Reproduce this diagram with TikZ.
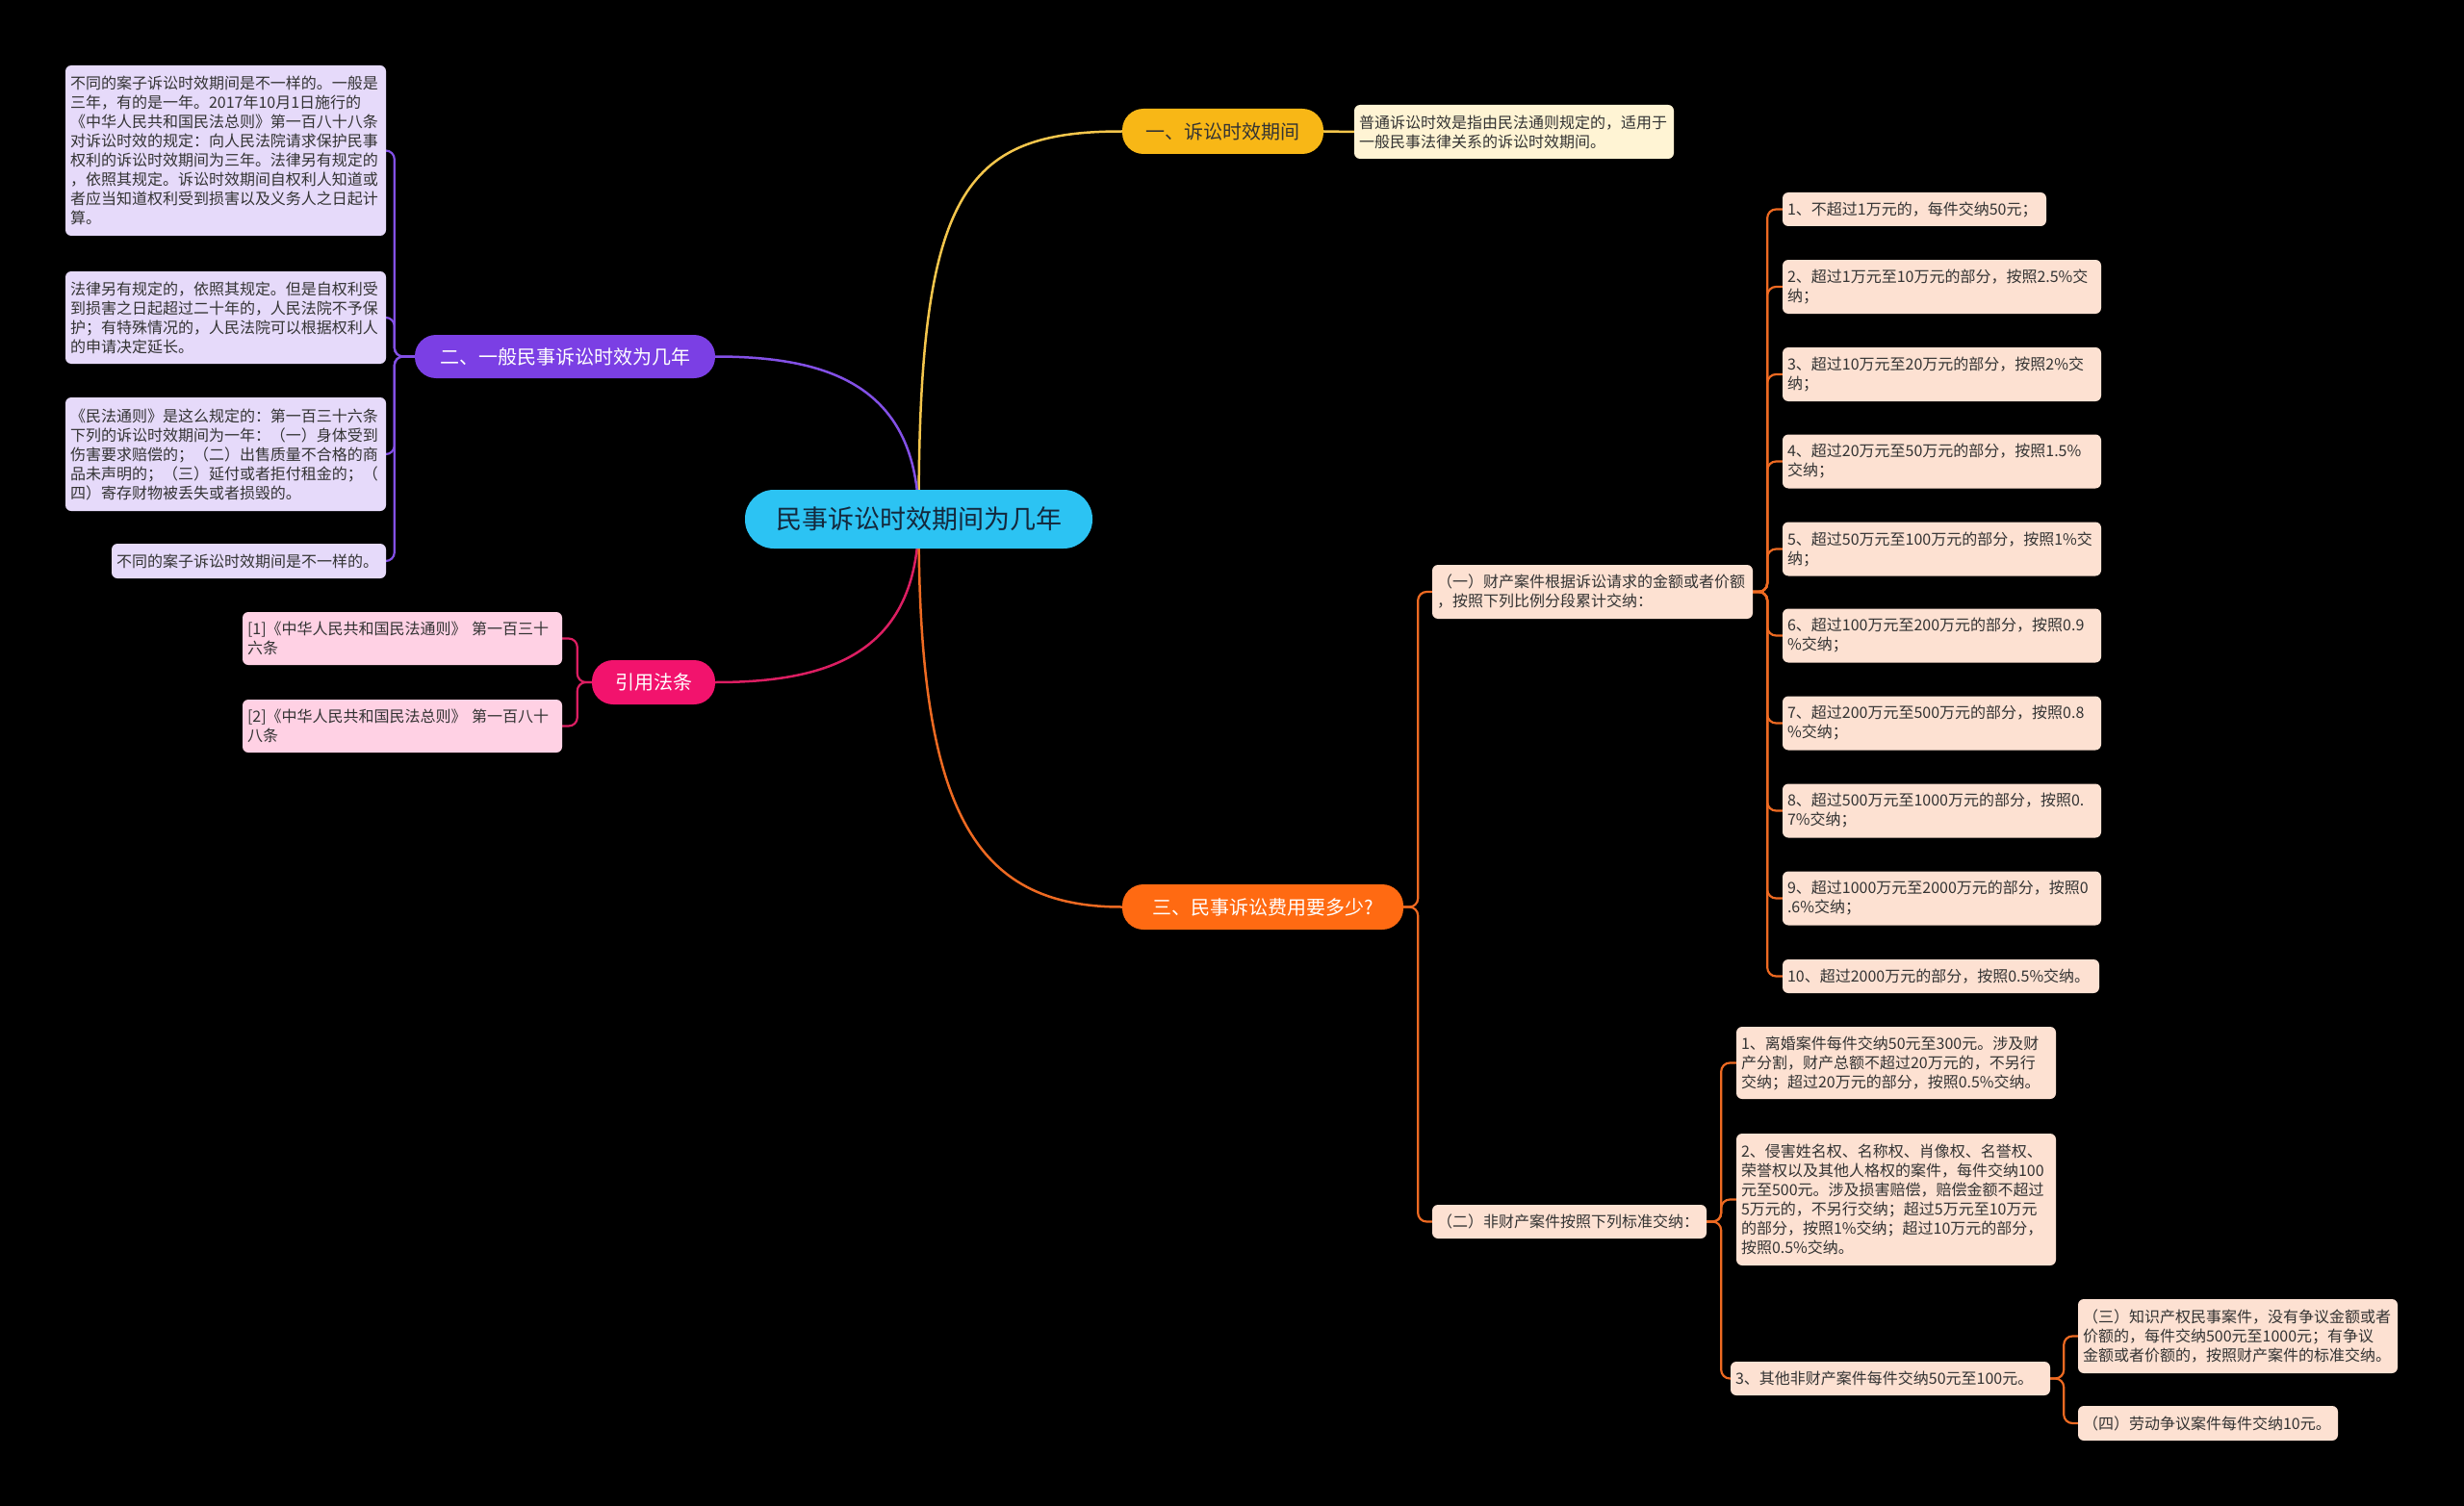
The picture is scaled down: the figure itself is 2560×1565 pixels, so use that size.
\documentclass[tikz,border=0pt]{standalone}
\usepackage{fontspec}
\setmainfont{Noto Sans CJK SC}
\usetikzlibrary{calc}
\pgfdeclarelayer{back}
\pgfdeclarelayer{edges}
\pgfsetlayers{back,edges,main}
\definecolor{cyanC}{HTML}{2CC3F3}
\definecolor{ctext}{HTML}{14283C}
\definecolor{yellowC}{HTML}{F8B716}
\definecolor{yline}{HTML}{F4C64C}
\definecolor{creamC}{HTML}{FFF4D4}
\definecolor{purpleC}{HTML}{7B3FE4}
\definecolor{pline}{HTML}{8350E6}
\definecolor{lavC}{HTML}{E6DAFA}
\definecolor{pinkC}{HTML}{F2136D}
\definecolor{kline}{HTML}{DC1E62}
\definecolor{rosC}{HTML}{FFD1E4}
\definecolor{orangeC}{HTML}{FF6A12}
\definecolor{oline}{HTML}{EE6A22}
\definecolor{peachC}{HTML}{FDE1D2}
\definecolor{txt}{HTML}{333333}
\begin{document}
\begin{tikzpicture}[x=1pt,y=-1pt,
  notebox/.style={rounded corners=6pt, inner xsep=5pt, inner ysep=0pt, align=left, text=txt, font=\fontsize{16}{20}\selectfont},
  pill/.style={rounded corners=22pt, inner sep=0pt, align=center, font=\fontsize{20}{24}\selectfont},
  yl/.style={draw=yline, line width=2.5pt},
  pl/.style={draw=pline, line width=2.5pt},
  kl/.style={draw=kline, line width=2.5pt},
  ol/.style={draw=oline, line width=2.5pt},
  br/.style={rounded corners=9pt, line width=2.2pt}
]
\begin{pgfonlayer}{back}
\fill[black] (0,0) rectangle (2560,1565);
\end{pgfonlayer}
\useasboundingbox (0,0) rectangle (2560,1565);

% central and main branches
\node[pill, fill=cyanC, text=ctext, minimum width=361pt, minimum height=61pt, rounded corners=30pt, font=\fontsize{27}{30}\selectfont] (c) at (954.5,539.5) {民事诉讼时效期间为几年};
\node[pill, fill=yellowC, text=txt, minimum width=209pt, minimum height=47pt] (b1) at (1270.5,136.5) {一、诉讼时效期间};
\node[pill, fill=purpleC, text=white, minimum width=312pt, minimum height=45pt] (b2) at (587,370.5) {二、一般民事诉讼时效为几年};
\node[pill, fill=pinkC, text=white, minimum width=128pt, minimum height=46pt] (b3) at (679,709) {引用法条};
\node[pill, fill=orangeC, text=white, minimum width=292pt, minimum height=47pt] (b4) at (1312,942.5) {三、民事诉讼费用要多少?};

% yellow note
\node[notebox, fill=creamC, text width=322pt, minimum height=56pt] (y1) at (1573,137) {普通诉讼时效是指由民法通则规定的，适用于\\一般民事法律关系的诉讼时效期间。};

% purple notes
\node[notebox, fill=lavC, text width=323pt, minimum height=177pt] (p1) at (234.5,156.5) {不同的案子诉讼时效期间是不一样的。一般是\\三年，有的是一年。2017年10月1日施行的\\《中华人民共和国民法总则》第一百八十八条\\对诉讼时效的规定：向人民法院请求保护民事\\权利的诉讼时效期间为三年。法律另有规定的\\，依照其规定。诉讼时效期间自权利人知道或\\者应当知道权利受到损害以及义务人之日起计\\算。};
\node[notebox, fill=lavC, text width=323pt, minimum height=96pt] (p2) at (234.5,330) {法律另有规定的，依照其规定。但是自权利受\\到损害之日起超过二十年的，人民法院不予保\\护；有特殊情况的，人民法院可以根据权利人\\的申请决定延长。};
\node[notebox, fill=lavC, text width=323pt, minimum height=118pt] (p3) at (234.5,472) {《民法通则》是这么规定的：第一百三十六条\\下列的诉讼时效期间为一年：（一）身体受到\\伤害要求赔偿的；（二）出售质量不合格的商\\品未声明的；（三）延付或者拒付租金的；（\\四）寄存财物被丢失或者损毁的。};
\node[notebox, fill=lavC, text width=275pt, minimum height=36pt] (p4) at (258.5,583) {不同的案子诉讼时效期间是不一样的。};

% pink notes
\node[notebox, fill=rosC, text width=322pt, minimum height=55pt] (r1) at (418,663.5) {[1]《中华人民共和国民法通则》 第一百三十\\六条};
\node[notebox, fill=rosC, text width=322pt, minimum height=55pt] (r2) at (418,754.5) {[2]《中华人民共和国民法总则》 第一百八十\\八条};

% orange sub nodes
\node[notebox, fill=peachC, text width=323pt, minimum height=56pt] (o1) at (1654.5,615) {（一）财产案件根据诉讼请求的金额或者价额\\，按照下列比例分段累计交纳：};
\node[notebox, fill=peachC, text width=275pt, minimum height=35pt] (o2) at (1630.5,1269.5) {（二）非财产案件按照下列标准交纳：};

\node[notebox, fill=peachC, text width=264pt, minimum height=35pt] (i1) at (1989,217.5) {1、不超过1万元的，每件交纳50元；};
\node[notebox, fill=peachC, text width=321pt, minimum height=56pt] (i2) at (2017.5,298) {2、超过1万元至10万元的部分，按照2.5\%交\\纳；};
\node[notebox, fill=peachC, text width=321pt, minimum height=56pt] (i3) at (2017.5,389) {3、超过10万元至20万元的部分，按照2\%交\\纳；};
\node[notebox, fill=peachC, text width=321pt, minimum height=56pt] (i4) at (2017.5,479.5) {4、超过20万元至50万元的部分，按照1.5\%\\交纳；};
\node[notebox, fill=peachC, text width=321pt, minimum height=56pt] (i5) at (2017.5,570.5) {5、超过50万元至100万元的部分，按照1\%交\\纳；};
\node[notebox, fill=peachC, text width=321pt, minimum height=56pt] (i6) at (2017.5,660.5) {6、超过100万元至200万元的部分，按照0.9\\\%交纳；};
\node[notebox, fill=peachC, text width=321pt, minimum height=56pt] (i7) at (2017.5,751.5) {7、超过200万元至500万元的部分，按照0.8\\\%交纳；};
\node[notebox, fill=peachC, text width=321pt, minimum height=56pt] (i8) at (2017.5,842.5) {8、超过500万元至1000万元的部分，按照0.\\7\%交纳；};
\node[notebox, fill=peachC, text width=321pt, minimum height=56pt] (i9) at (2017.5,933.5) {9、超过1000万元至2000万元的部分，按照0\\.6\%交纳；};
\node[notebox, fill=peachC, text width=319pt, minimum height=35pt] (i10) at (2016.5,1014.5) {10、超过2000万元的部分，按照0.5\%交纳。};

\node[notebox, fill=peachC, text width=322pt, minimum height=75pt] (n1) at (1970,1104.5) {1、离婚案件每件交纳50元至300元。涉及财\\产分割，财产总额不超过20万元的，不另行\\交纳；超过20万元的部分，按照0.5\%交纳。};
\node[notebox, fill=peachC, text width=322pt, minimum height=137pt] (n2) at (1970,1246.5) {2、侵害姓名权、名称权、肖像权、名誉权、\\荣誉权以及其他人格权的案件，每件交纳100\\元至500元。涉及损害赔偿，赔偿金额不超过\\5万元的，不另行交纳；超过5万元至10万元\\的部分，按照1\%交纳；超过10万元的部分，\\按照0.5\%交纳。};
\node[notebox, fill=peachC, text width=322pt, minimum height=35pt] (n3) at (1964,1432.5) {3、其他非财产案件每件交纳50元至100元。};
\node[notebox, fill=peachC, text width=322pt, minimum height=77pt] (s3) at (2325,1388.5) {（三）知识产权民事案件，没有争议金额或者\\价额的，每件交纳500元至1000元；有争议\\金额或者价额的，按照财产案件的标准交纳。};
\node[notebox, fill=peachC, text width=260pt, minimum height=36pt] (s4) at (2294,1479) {（四）劳动争议案件每件交纳10元。};

\begin{pgfonlayer}{edges}
\draw[yl] (c.center) .. controls (954,200) and (1000,136.5) .. (b1.west);
\draw[yl] (b1.east) -- (y1.west);
\draw[pl] (b2.east) .. controls (860,370.5) and (954,400) .. (c.center);
\draw[kl] (b3.east) .. controls (860,709) and (954,680) .. (c.center);
\draw[ol] (c.center) .. controls (954,840) and (1010,942.5) .. (b4.west);
\foreach \n in {p1,p2,p3,p4} \draw[pl,br] (b2.west) -- ++(-21,0) |- (\n.east);
\foreach \n in {r1,r2} \draw[kl,br] (b3.west) -- ++(-15,0) |- (\n.east);
\foreach \n in {o1,o2} \draw[ol,br] (b4.east) -- ++(15,0) |- (\n.west);
\foreach \n in {i1,i2,i3,i4,i5,i6,i7,i8,i9,i10} \draw[ol,br] (o1.east) -- ++(15,0) |- (\n.west);
\foreach \n in {n1,n2,n3} \draw[ol,br] (o2.east) -- ++(15,0) |- (\n.west);
\foreach \n in {s3,s4} \draw[ol,br] (n3.east) -- ++(14,0) |- (\n.west);
\end{pgfonlayer}
\end{tikzpicture}
\end{document}
